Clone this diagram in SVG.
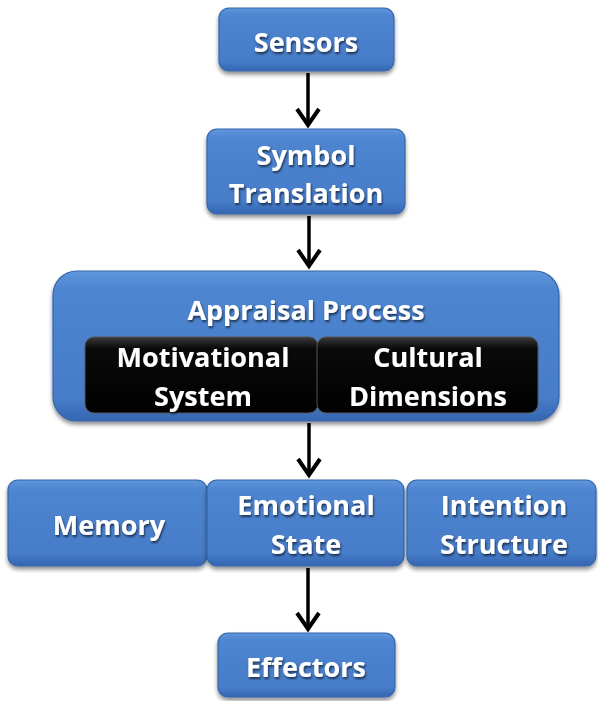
<svg xmlns="http://www.w3.org/2000/svg" width="598" height="701" viewBox="0 0 598 701">
  <defs>
    <linearGradient id="blueFill" x1="0" y1="0" x2="0" y2="1">
      <stop offset="0" stop-color="#5f96dc"/>
      <stop offset="0.12" stop-color="#4e85d0"/>
      <stop offset="0.85" stop-color="#467cc8"/>
      <stop offset="1" stop-color="#3566b2"/>
    </linearGradient>
    <linearGradient id="blackFill" x1="0" y1="0" x2="0" y2="1">
      <stop offset="0" stop-color="#3a3a3a"/>
      <stop offset="0.15" stop-color="#0a0a0a"/>
      <stop offset="1" stop-color="#000000"/>
    </linearGradient>
    <filter id="shadow" x="-10%" y="-10%" width="120%" height="130%">
      <feGaussianBlur in="SourceAlpha" stdDeviation="2"/>
      <feOffset dx="0" dy="3" result="b"/>
      <feComponentTransfer><feFuncA type="linear" slope="0.45"/></feComponentTransfer>
      <feMerge><feMergeNode/><feMergeNode in="SourceGraphic"/></feMerge>
    </filter>
    <filter id="textShadow" x="-10%" y="-20%" width="120%" height="140%">
      <feGaussianBlur in="SourceAlpha" stdDeviation="1"/>
      <feOffset dx="1" dy="1.5" result="b"/>
      <feComponentTransfer><feFuncA type="linear" slope="0.6"/></feComponentTransfer>
      <feMerge><feMergeNode/><feMergeNode in="SourceGraphic"/></feMerge>
    </filter>
  </defs>
  <style>
    .box { fill: url(#blueFill); stroke: #3666ab; stroke-width: 1.2; filter: url(#shadow); }
    .inner { fill: url(#blackFill); stroke: #555; stroke-width: 1; }
    .label { font-family: "Open Sans", "Liberation Sans", sans-serif; font-weight: bold; font-size: 27px; fill: #fff; text-anchor: middle; font-variant-ligatures: none; filter: url(#textShadow); }
    .edge { stroke: #000; stroke-width: 3.5; fill: none; }
    .head { stroke: #000; stroke-width: 4; fill: none; stroke-linecap: butt; stroke-linejoin: miter; }
  </style>

  <rect width="598" height="701" fill="#fff"/>

  <!-- connectors: shaft plus open chevron head -->
  <g id="connectors">
    <line class="edge" x1="308" y1="73" x2="308" y2="124"/>
    <path class="head" d="M297 109 L308 125 L319 109"/>
    <line class="edge" x1="309" y1="216" x2="309" y2="265"/>
    <path class="head" d="M298 250 L309 266 L320 250"/>
    <line class="edge" x1="309" y1="423" x2="309" y2="474"/>
    <path class="head" d="M298 459 L309 475 L320 459"/>
    <line class="edge" x1="308" y1="568" x2="308" y2="628"/>
    <path class="head" d="M297 613 L308 629 L319 613"/>
  </g>

  <g id="sensors">
    <rect class="box" x="219" y="8" width="175" height="63" rx="10"/>
    <text class="label" x="306" y="52">Sensors</text>
  </g>

  <g id="symbol-translation">
    <rect class="box" x="207" y="129" width="198" height="85" rx="10"/>
    <text class="label" x="306" y="165">Symbol</text>
    <text class="label" x="306" y="203">Translation</text>
  </g>

  <g id="appraisal-process">
    <rect class="box" x="53" y="271" width="506" height="150" rx="24"/>
    <text class="label" x="306" y="320">Appraisal Process</text>
  </g>

  <g id="motivational-system">
    <rect class="inner" x="85" y="337" width="233" height="76" rx="9"/>
    <text class="label" x="203" y="367">Motivational</text>
    <text class="label" x="203" y="406">System</text>
  </g>

  <g id="cultural-dimensions">
    <rect class="inner" x="317" y="337" width="221" height="76" rx="9"/>
    <text class="label" x="428" y="367">Cultural</text>
    <text class="label" x="428" y="406">Dimensions</text>
  </g>

  <g id="memory">
    <rect class="box" x="8" y="480" width="199" height="86" rx="10"/>
    <text class="label" x="109" y="535">Memory</text>
  </g>

  <g id="emotional-state">
    <rect class="box" x="207" y="480" width="197" height="86" rx="10"/>
    <text class="label" x="306" y="515">Emotional</text>
    <text class="label" x="306" y="554">State</text>
  </g>

  <g id="intention-structure">
    <rect class="box" x="407" y="480" width="189" height="86" rx="10"/>
    <text class="label" x="504" y="515">Intention</text>
    <text class="label" x="504" y="554">Structure</text>
  </g>

  <g id="effectors">
    <rect class="box" x="218" y="633" width="177" height="64" rx="10"/>
    <text class="label" x="306" y="677">Effectors</text>
  </g>
</svg>
